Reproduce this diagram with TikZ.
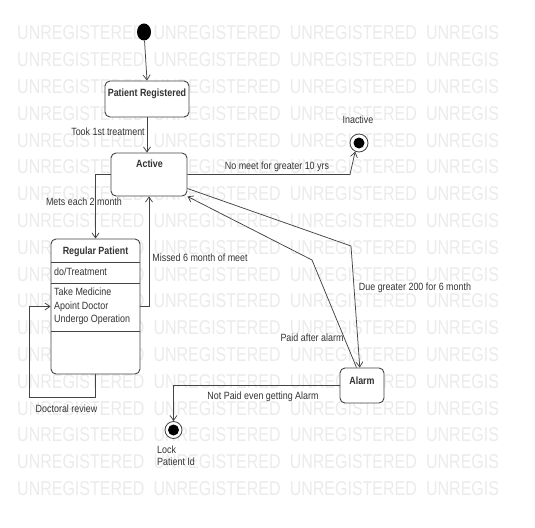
\documentclass[tikz,border=0pt]{standalone}
\usepackage{fontspec}
\setmainfont{Liberation Sans}[FakeStretch=0.85]
\newfontfamily\wmfont{Liberation Sans}[FakeStretch=0.8]
\usetikzlibrary{arrows.meta,shapes.geometric}
\definecolor{ln}{HTML}{444444}
\definecolor{wmc}{HTML}{EBEBEB}
\definecolor{tx}{HTML}{333333}
\tikzset{
  statebox/.style={draw=ln, line width=0.9pt, fill=white, rounded corners=5pt, inner sep=0pt},
  lbl/.style={font=\fontsize{10.5}{12}\selectfont, text=tx, inner sep=0pt, text height=7.6pt, text depth=0pt},
  ttl/.style={lbl, font=\fontsize{10.5}{12}\selectfont\bfseries},
  conn/.style={draw=ln, line width=0.75pt, -{Straight Barb[length=5pt,width=7pt]}},
  plain/.style={draw=ln, line width=0.8pt},
  wmtext/.style={font=\wmfont\fontsize{20}{24}\selectfont, text=wmc, inner sep=0pt, anchor=west},
  finalst/.style={circle, draw=ln, line width=0.8pt, fill=white, minimum size=18pt, inner sep=0pt,
    path picture={\fill[black] (path picture bounding box.center) circle (5.5pt);}},
}
\begin{document}
\begin{tikzpicture}[x=1pt,y=-1pt]
\useasboundingbox[fill=white] (0,0) rectangle (535,527);
% watermark
\begin{scope}
  \clip (0,0) rectangle (497,527);
  \foreach \r in {0,...,17} {
    \foreach \c in {0,...,3} {
      \node[wmtext] (wm-\r-\c) at ({17+136.3*\c},{33+26.8*\r}) {UNREGISTERED};
    }
  }
\end{scope}
% states
\node[ellipse, fill=black, minimum width=14pt, minimum height=17pt, inner sep=0pt] (init) at (144,32) {};
\node[statebox, minimum width=84pt, minimum height=36pt] (pr) at (147,99) {};
\node[ttl] (prt) at (147,93) {Patient Registered};
\node[statebox, minimum width=76pt, minimum height=43pt] (active) at (149,174.5) {};
\node[ttl] (actt) at (149.5,164) {Active};
\node[statebox, minimum width=89pt, minimum height=135pt] (rp) at (95.5,306.5) {};
\node[ttl] (rpt) at (95.5,251) {Regular Patient};
\coordinate (s1) at (0,262);
\coordinate (s2) at (0,283);
\coordinate (s3) at (0,331);
\draw[plain] (rp.west |- s1) -- (rp.east |- s1);
\draw[plain] (rp.west |- s2) -- (rp.east |- s2);
\draw[plain] (rp.west |- s3) -- (rp.east |- s3);
\node[lbl, anchor=west] (rpdo) at (54,272) {do/Treatment};
\node[lbl, anchor=west] (rpa1) at (54,291.5) {Take Medicine};
\node[lbl, anchor=west] (rpa2) at (54,305.5) {Apoint Doctor};
\node[lbl, anchor=west] (rpa3) at (54,319) {Undergo Operation};
\node[statebox, minimum width=44pt, minimum height=35pt] (alarm) at (362,385.5) {};
\node[ttl] (alarmt) at (362,380.5) {Alarm};
\node[finalst] (inactive) at (359,143) {};
\node[lbl] (inactt) at (358,120) {Inactive};
\node[finalst, minimum size=17pt] (lock) at (173.5,430) {};
\node[lbl, anchor=west] (lockt1) at (157,450) {Lock};
\node[lbl, anchor=west] (lockt2) at (157,462) {Patient Id};
% bend points
\coordinate (nm) at (350,174.5);
\coordinate (dr1) at (29,397);
\coordinate (due1) at (351,246);
\coordinate (paid1) at (312,260);
% connectors
\draw[conn] (init) -- (pr.north);
\draw[conn] (pr.south) -- (pr.south |- active.north);
\draw[conn] (active.east) -- (nm) -- (inactive.-114);
\draw[conn] (active.west) -| (rp.north);
\draw[conn] (rp.east) -| (active.south);
\draw[conn] (rp.south) |- (dr1) |- (rp.west);
\draw[conn] (active.-20) -- (due1) -- (alarm.97);
\draw[conn] (alarm.107) -- (paid1) -- (active.south east);
\draw[conn] (alarm.west) -| (lock.north);
% labels
\node[lbl] (l-took) at (108,132) {Took 1st treatment};
\node[lbl] (l-nomeet) at (277,166) {No meet for greater 10 yrs};
\node[lbl] (l-mets) at (84,202) {Mets each 2 month};
\node[lbl] (l-missed) at (200,258) {Missed 6 month of meet};
\node[lbl] (l-due) at (415,287) {Due greater 200 for 6 month};
\node[lbl] (l-paid) at (312,338) {Paid after alarm};
\node[lbl] (l-notpaid) at (263,396) {Not Paid even getting Alarm};
\node[lbl] (l-doc) at (66.5,409) {Doctoral review};
\end{tikzpicture}
\end{document}
